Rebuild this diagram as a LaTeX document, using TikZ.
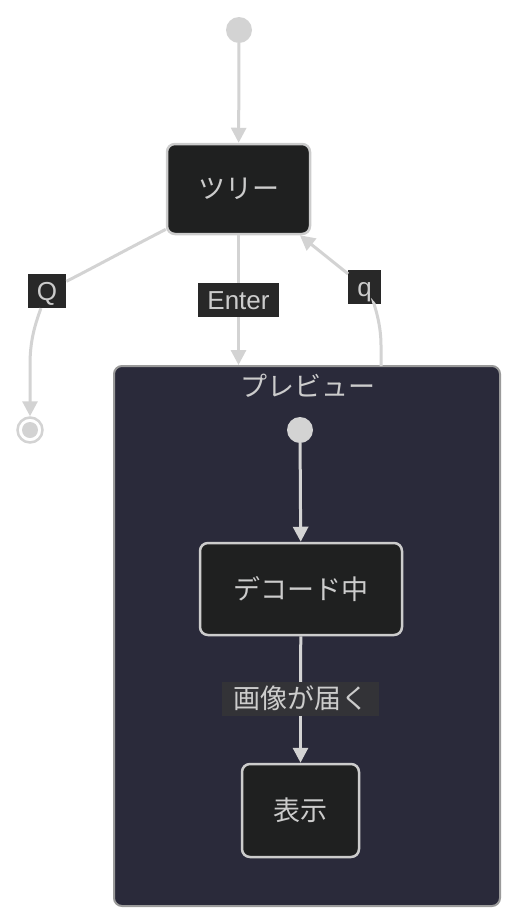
\documentclass[tikz,border=0pt]{standalone}
\usepackage{fontspec}
\setmainfont{Liberation Sans}
\newfontfamily\jp{Noto Sans CJK JP}
\usetikzlibrary{arrows.meta}
\definecolor{linegray}{HTML}{D3D3D3}
\definecolor{nodefill}{HTML}{1F2020}
\definecolor{nodeborder}{HTML}{CCCCCC}
\definecolor{textgray}{HTML}{CCCCCC}
\definecolor{clusterfill}{HTML}{2A2A3A}
\definecolor{clusterborder}{HTML}{9A9A9A}
\definecolor{labelbg}{HTML}{282828}
\definecolor{innerlabelbg}{HTML}{333337}
\tikzset{
	state/.style={draw=nodeborder, line width=2.5pt, fill=nodefill, rounded corners=8pt, text=textgray, font=\jp\fontsize{27}{32}\selectfont},
	cluster/.style={draw=clusterborder, line width=2pt, fill=clusterfill, rounded corners=8pt},
	title/.style={text=textgray, inner sep=0pt, font=\jp\fontsize{27}{32}\selectfont},
	dot/.style={circle, fill=linegray, minimum size=26pt, inner sep=0pt},
	final/.style={circle, draw=linegray, line width=2.5pt, fill=white, minimum size=25pt, inner sep=0pt},
	trans/.style={draw=linegray, line width=3pt},
	transarrow/.style={trans, -{Triangle[width=15pt,length=15pt]}},
	lab/.style={fill=labelbg, text=textgray, inner xsep=9pt, inner ysep=0pt, minimum height=34pt, text height=22pt, text depth=3.4pt, font=\fontsize{26}{31}\selectfont}
}
\begin{document}
\begin{tikzpicture}[x=1pt, y=-1pt]
		\useasboundingbox (0,0) rectangle (517,922);

		\node[cluster, minimum width=386pt, minimum height=540pt] (preview) at (307,636) {};
		\node[title] (ptitle) at (308,386) {プレビュー};

		\node[dot] (start) at (239,30) {};
		\node[state, minimum width=143pt, minimum height=90pt] (tree) at (238.5,189) {ツリー};
		\node[final] (end) at (30,430) {};
		\fill[linegray] (end.center) circle (8pt);

		\node[dot] (pstart) at (300,430) {};
		\node[state, minimum width=202pt, minimum height=92pt] (decode) at (301,589) {デコード中};
		\node[state, minimum width=117pt, minimum height=93pt] (show) at (300.5,810.5) {表示};

		\node[lab] (qbig) at (47,291) {Q};
		\node[lab] (enter) at (238.5,300) {Enter};
		\node[lab] (qsmall) at (364.5,287) {q};
		\node[lab, fill=innerlabelbg, inner xsep=11pt, font=\jp\fontsize{27}{32}\selectfont] (arrive) at (300.5,699) {画像が届く};

		\coordinate (enterfoot) at (tree.south |- preview.north);
		\coordinate (qfoot) at (381,366);

		\draw[transarrow] (start) -- (tree);

		\draw[trans] (tree.209) .. controls (120,253) and (85,272) .. (qbig);
		\draw[transarrow] (qbig) .. controls (35,325) and (30,340) .. (30,365) -- (end);

		\draw[trans] (tree) -- (enter);
		\draw[transarrow] (enter) -- (enterfoot);

		\draw[trans] (qfoot) -- (381,345) .. controls (381,320) and (372,300) .. (qsmall);
		\draw[transarrow] (qsmall) -- (tree.-37);

		\draw[transarrow] (pstart) -- (decode);
		\draw[trans] (decode) -- (arrive);
		\draw[transarrow] (arrive) -- (show);
	\end{tikzpicture}
\end{document}
